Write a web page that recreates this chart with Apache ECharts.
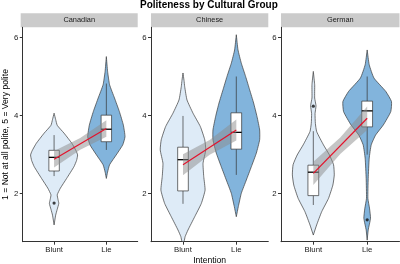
<!DOCTYPE html>
<html><head><meta charset="utf-8">
<script src="https://cdn.jsdelivr.net/npm/echarts@6/dist/echarts.min.js"></script>
<style>html,body{margin:0;padding:0;background:#fff}#c{width:400px;height:264px}</style>
</head><body><div id="c"></div>
<script>
// ---------- data ----------
const groups = ['Canadian', 'Chinese', 'German'];
const intentions = ['Blunt', 'Lie'];
const yTicks = [2, 4, 6];

// violin outlines: levels (score) and half-widths (in category units)
const canBluntV = [4.06, 3.9, 3.75, 3.55, 3.29, 3.1, 2.99, 2.85, 2.69, 2.39, 2.14, 1.97, 1.85, 1.75, 1.6, 1.45, 1.2];
const canBluntW = [0, 0.03, 0.06, 0.19, 0.34, 0.42, 0.45, 0.43, 0.38, 0.24, 0.12, 0.06, 0.075, 0.09, 0.06, 0.03, 0];
const canLieV = [5.51, 5.13, 4.79, 4.45, 4.1, 3.76, 3.46, 3.25, 2.99, 2.74, 2.55, 2.39];
const canLieW = [0, 0.024, 0.062, 0.156, 0.25, 0.325, 0.357, 0.314, 0.188, 0.062, 0.023, 0];
const chiBluntV = [5.09, 4.9, 4.74, 4.4, 4.06, 3.72, 3.38, 3.12, 2.78, 2.44, 2.09, 1.75, 1.41, 1.07, 0.9, 0.78];
const chiBluntW = [0, 0.019, 0.032, 0.075, 0.188, 0.325, 0.408, 0.427, 0.376, 0.389, 0.414, 0.344, 0.22, 0.094, 0.04, 0.02];
const chiLieV = [6.07, 5.68, 5.34, 5.0, 4.66, 4.32, 3.97, 3.63, 3.38, 3.04, 2.69, 2.35, 2.01, 1.67, 1.41];
const chiLieW = [0, 0.032, 0.094, 0.175, 0.25, 0.325, 0.389, 0.438, 0.438, 0.376, 0.282, 0.188, 0.094, 0.038, 0];
const gerBluntV = [5.13, 4.79, 4.45, 4.25, 4.05, 3.8, 3.59, 3.25, 2.99, 2.74, 2.48, 2.22, 1.88, 1.54, 1.2, 0.94];
const gerBluntW = [0, 0.025, 0.025, 0.05, 0.032, 0.038, 0.062, 0.188, 0.30, 0.376, 0.389, 0.363, 0.282, 0.156, 0.062, 0];
const gerLieV = [5.68, 5.3, 4.96, 4.62, 4.36, 4.1, 3.76, 3.5, 3.25, 2.91, 2.39, 1.88, 1.63, 1.37, 1.07, 0.81];
const gerLieW = [0, 0.038, 0.126, 0.344, 0.451, 0.438, 0.30, 0.156, 0.075, 0.038, 0.019, 0.013, 0.043, 0.062, 0.019, 0];

// boxplot stats: [whiskerLow, Q1, median, Q3, whiskerHigh] for Blunt, Lie
const boxCanadian = [[2.45, 2.58, 2.93, 3.11, 3.5], [3.12, 3.33, 3.65, 4.01, 4.82]];
const boxChinese = [[1.74, 2.07, 2.87, 3.19, 3.99], [2.48, 3.14, 3.57, 4.07, 5.0]];
const boxGerman = [[1.71, 1.95, 2.55, 2.73, 3.6], [3.0, 3.71, 4.12, 4.37, 5.0]];

// outliers [intention position, score]
const outCanadian = [[1, 1.76]];
const outChinese = [];
const outGerman = [[1, 4.24], [2, 1.33]];

// group means (red line)
const meanCanadian = [2.88, 3.67];
const meanChinese = [2.74, 3.63];
const meanGerman = [2.52, 3.93];

// linear fit confidence ribbon at x = 1, 1.5, 2
const ribbonX = [1, 1.5, 2];
const ribCanadianLo = [2.67, 3.125, 3.46];
const ribCanadianHi = [3.09, 3.425, 3.88];
const ribChineseLo = [2.47, 2.995, 3.36];
const ribChineseHi = [3.01, 3.375, 3.90];
const ribGermanLo = [2.22, 3.015, 3.63];
const ribGermanHi = [2.82, 3.435, 4.23];

// ---------- assembly ----------
const violins = [
  [[canBluntV, canBluntW], [canLieV, canLieW]],
  [[chiBluntV, chiBluntW], [chiLieV, chiLieW]],
  [[gerBluntV, gerBluntW], [gerLieV, gerLieW]]
];
const boxes = [boxCanadian, boxChinese, boxGerman];
const outliers = [outCanadian, outChinese, outGerman];
const means = [meanCanadian, meanChinese, meanGerman];
const ribbons = [[ribCanadianLo, ribCanadianHi], [ribChineseLo, ribChineseHi], [ribGermanLo, ribGermanHi]];

const FONT = 'Liberation Sans, Arial, Helvetica, sans-serif';
const fills = ['#deebf7', '#82b4dc'];
const gridDefs = [
  { left: 20.7, width: 117 },
  { left: 151, width: 117.3 },
  { left: 281, width: 118.5 }
];
const TOP = 27.3, HEIGHT = 214.4;

const grid = [], xAxis = [], yAxis = [], series = [], graphic = [];
gridDefs.forEach((g, i) => {
  grid.push({ left: g.left, top: TOP, width: g.width, height: HEIGHT, containLabel: false });
  xAxis.push({
    type: 'value', gridIndex: i, min: 0.4, max: 2.6,
    splitLine: { show: false },
    axisLine: { onZero: false, lineStyle: { color: '#333', width: 1 } },
    axisTick: { customValues: [1, 2], length: 3, lineStyle: { color: '#333' } },
    axisLabel: { customValues: [1, 2], formatter: v => intentions[Math.round(v) - 1], fontSize: 7.8, color: '#1a1a1a', margin: 4.5, fontFamily: FONT }
  });
  yAxis.push({
    type: 'value', gridIndex: i, min: 0.77, max: 6.26,
    splitLine: { show: false },
    axisLine: { show: true, onZero: false, lineStyle: { color: '#333', width: 1 } },
    axisTick: { show: true, customValues: yTicks, length: 3, lineStyle: { color: '#333' } },
    axisLabel: { customValues: yTicks, fontSize: 7.8, color: '#1a1a1a', margin: 4.5, fontFamily: FONT },
    name: i === 0 ? '1 = Not at all polite, 5 = Very polite' : '', nameLocation: 'middle', nameGap: 11,
    nameTextStyle: { fontSize: 8.6, color: '#000', fontFamily: FONT }
  });

  // violins
  series.push({
    type: 'custom', xAxisIndex: i, yAxisIndex: i, z: 1, silent: true,
    data: [[1], [2]],
    encode: { x: 0 },
    renderItem: (params, api) => {
      const k = params.dataIndex;
      const xc = api.value(0);
      const V = violins[i][k][0], W = violins[i][k][1];
      const pts = [];
      for (let j = 0; j < V.length; j++) pts.push(api.coord([xc + W[j], V[j]]));
      for (let j = V.length - 1; j >= 0; j--) pts.push(api.coord([xc - W[j], V[j]]));
      return { type: 'polygon', shape: { points: pts, smooth: 0.15 },
        style: { fill: fills[k], stroke: '#3a3a3a', lineWidth: 0.7 } };
    }
  });

  // boxes
  series.push({
    type: 'custom', xAxisIndex: i, yAxisIndex: i, z: 2, silent: true,
    data: boxes[i].map((b, k) => [k + 1].concat(b)),
    encode: { x: 0, y: [1, 2, 3, 4, 5] },
    renderItem: (params, api) => {
      const xc = api.value(0);
      const lo = api.value(1), q1 = api.value(2), md = api.value(3), q3 = api.value(4), hi = api.value(5);
      const c = v => api.coord([xc, v]);
      const tl = api.coord([xc - 0.1, q3]), br = api.coord([xc + 0.1, q1]);
      const ml = api.coord([xc - 0.1, md]), mr = api.coord([xc + 0.1, md]);
      const ls = { stroke: '#333', lineWidth: 0.7 };
      return { type: 'group', children: [
        { type: 'line', shape: { x1: c(hi)[0], y1: c(hi)[1], x2: c(q3)[0], y2: c(q3)[1] }, style: ls },
        { type: 'line', shape: { x1: c(q1)[0], y1: c(q1)[1], x2: c(lo)[0], y2: c(lo)[1] }, style: ls },
        { type: 'rect', shape: { x: tl[0], y: tl[1], width: br[0] - tl[0], height: br[1] - tl[1] },
          style: { fill: '#fff', stroke: '#333', lineWidth: 0.7 } },
        { type: 'line', shape: { x1: ml[0], y1: ml[1], x2: mr[0], y2: mr[1] }, style: { stroke: '#000', lineWidth: 1.3 } }
      ] };
    }
  });

  // outliers
  series.push({
    type: 'scatter', xAxisIndex: i, yAxisIndex: i, z: 3, silent: true,
    data: outliers[i], symbolSize: 3.2, itemStyle: { color: '#111' }
  });

  // ribbon
  series.push({
    type: 'custom', xAxisIndex: i, yAxisIndex: i, z: 4, silent: true,
    data: ribbonX.map((x, k) => [x, ribbons[i][0][k], ribbons[i][1][k]]),
    encode: { x: 0, y: [1, 2] },
    renderItem: (params, api) => {
      if (params.dataIndex !== 0) return null;
      const lo = ribbons[i][0], hi = ribbons[i][1];
      const pts = [];
      for (let j = 0; j < ribbonX.length; j++) pts.push(api.coord([ribbonX[j], hi[j]]));
      for (let j = ribbonX.length - 1; j >= 0; j--) pts.push(api.coord([ribbonX[j], lo[j]]));
      return { type: 'polygon', shape: { points: pts }, style: { fill: 'rgba(140,140,140,0.5)' } };
    }
  });

  // mean line
  series.push({
    type: 'line', xAxisIndex: i, yAxisIndex: i, z: 5, silent: true,
    data: means[i].map((m, k) => [k + 1, m]), symbol: 'none',
    lineStyle: { color: '#e3122b', width: 1.2 }
  });

  // strip
  graphic.push({ type: 'rect', left: g.left, top: 13.3, shape: { width: g.width, height: 14 },
    style: { fill: '#cbcbcb' }, silent: true });
  graphic.push({ type: 'text', x: g.left + g.width / 2, y: 20.3,
    style: { text: groups[i], fontSize: 7.4, fontFamily: FONT, fill: '#1a1a1a', align: 'center', verticalAlign: 'middle' }, silent: true });
});

// x axis title
graphic.push({ type: 'text', x: gridDefs[1].left + gridDefs[1].width / 2, y: 261,
  style: { text: 'Intention', fontSize: 8.6, fontFamily: FONT, fill: '#000', align: 'center', verticalAlign: 'middle' }, silent: true });

const chart = echarts.init(document.getElementById('c'), null, { renderer: 'canvas' });
chart.setOption({
  animation: false,
  backgroundColor: '#fff',
  title: { text: 'Politeness by Cultural Group', left: 140, top: 0, padding: 0,
    textStyle: { fontSize: 10, fontWeight: 'bold', color: '#000', fontFamily: FONT } },
  grid, xAxis, yAxis, series, graphic
});
</script></body></html>
